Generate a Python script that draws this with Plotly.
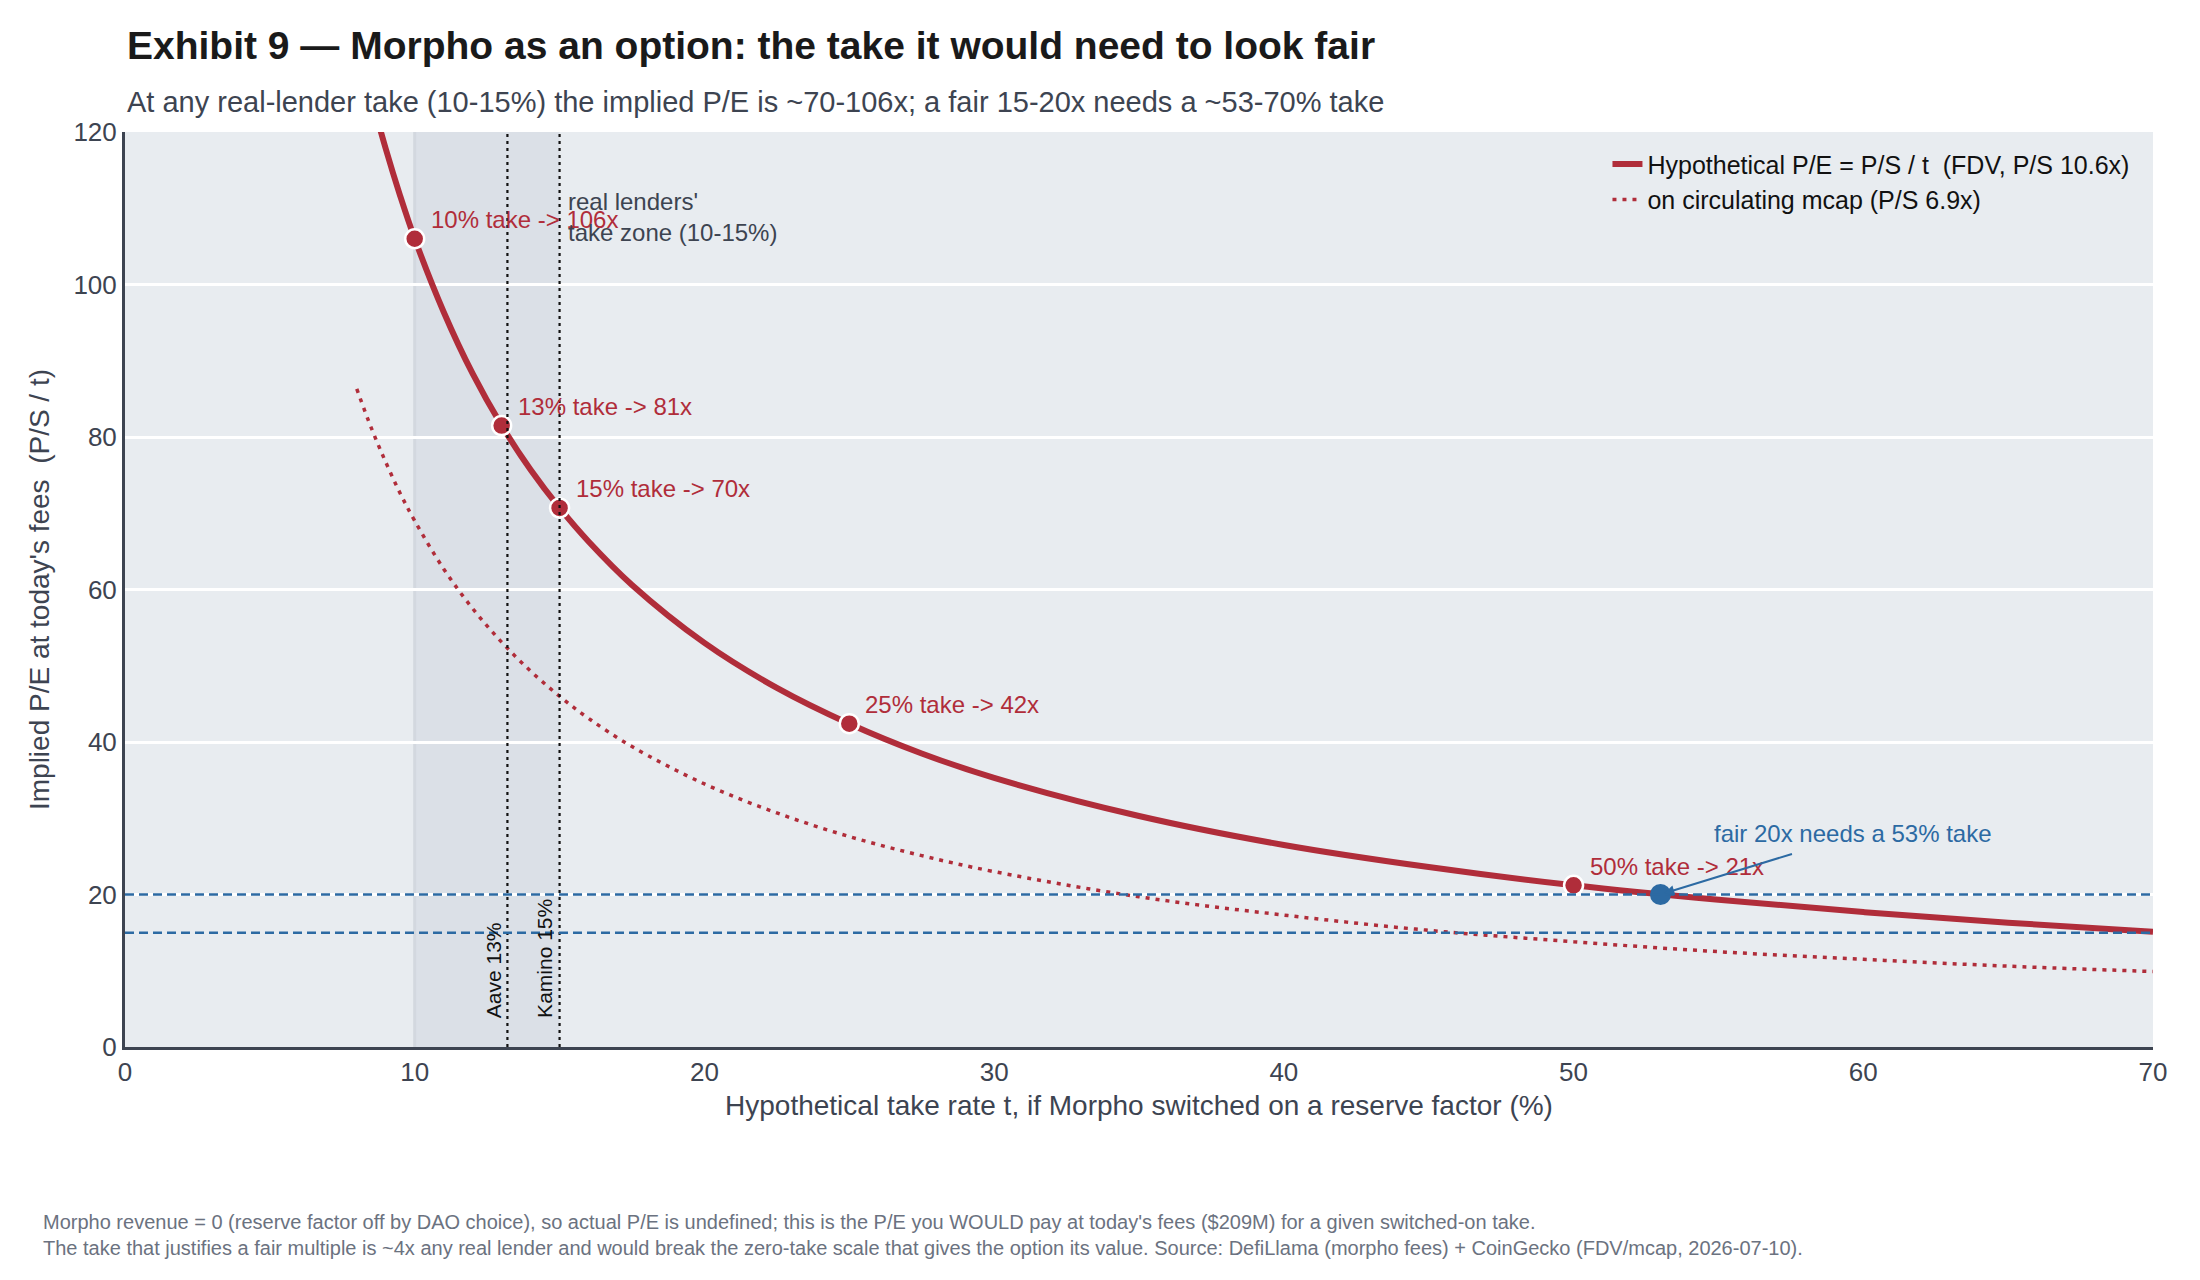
import plotly.graph_objects as go

# ---- data ----
take_rates = [8, 8.5, 9, 9.5, 10, 11, 12, 13, 14, 15, 16, 17.5, 20, 22.5, 25, 27.5, 30,
              35, 40, 45, 50, 55, 60, 65, 70]
pe_fdv = [132.5, 124.7, 117.8, 111.6, 106.0, 96.4, 88.3, 81.5, 75.7, 70.7, 66.3, 60.6, 53.0,
          47.1, 42.4, 38.5, 35.3, 30.3, 26.5, 23.6, 21.2, 19.3, 17.7, 16.3, 15.1]
pe_circ = [86.3, 81.2, 76.7, 72.6, 69.0, 62.7, 57.5, 53.1, 49.3, 46.0, 43.1, 39.4, 34.5,
           30.7, 27.6, 25.1, 23.0, 19.7, 17.3, 15.3, 13.8, 12.5, 11.5, 10.6, 9.9]

marked_takes = [10, 13, 15, 25, 50]
marked_pe = [106.0, 81.5, 70.7, 42.4, 21.2]
marked_labels = ["10% take -> 106x", "13% take -> 81x", "15% take -> 70x",
                 "25% take -> 42x", "50% take -> 21x"]

fair_take = 53
fair_pe = 20
fair_bands = [20, 15]

zone = [10, 15]
lender_lines = [13.2, 15]
lender_labels = ["Aave 13%", "Kamino 15%"]

x_ticks = [0, 10, 20, 30, 40, 50, 60, 70]
y_ticks = [0, 20, 40, 60, 80, 100, 120]

# ---- styles ----
RED = "#b02d3a"
BLUE = "#2c6aa3"
TXT = "#3d4451"
FONT = "Liberation Sans, Arial, sans-serif"

fig = go.Figure()

fig.add_trace(go.Scatter(
    x=take_rates, y=pe_fdv, mode="lines", line=dict(color=RED, width=6, shape="spline"),
    name="Hypothetical P/E = P/S / t  (FDV, P/S 10.6x)"))
fig.add_trace(go.Scatter(
    x=take_rates, y=pe_circ, mode="lines",
    line=dict(color=RED, width=3.5, dash="4px,6px", shape="spline"),
    name="on circulating mcap (P/S 6.9x)"))
fig.add_trace(go.Scatter(
    x=marked_takes, y=marked_pe, mode="markers", showlegend=False,
    marker=dict(color=RED, size=19, line=dict(color="white", width=2.5))))
fig.add_trace(go.Scatter(
    x=[fair_take], y=[fair_pe], mode="markers", showlegend=False,
    marker=dict(color=BLUE, size=21, line=dict(color=BLUE, width=0))))

shapes = [dict(type="rect", xref="x", yref="paper", x0=zone[0], x1=zone[1], y0=0, y1=1,
               fillcolor="#dbe0e7", line=dict(width=0), layer="below"),
          dict(type="line", xref="x", yref="paper", x0=zone[0], x1=zone[0], y0=0, y1=1,
               line=dict(color="#d3d8df", width=3), layer="below")]
for xv in lender_lines:
    shapes.append(dict(type="line", xref="x", yref="paper", x0=xv, x1=xv, y0=0, y1=1,
                       line=dict(color="#111111", width=2.2, dash="3px,4px")))
for yv in fair_bands:
    shapes.append(dict(type="line", xref="paper", yref="y", x0=0, x1=1, y0=yv, y1=yv,
                       line=dict(color=BLUE, width=2.5, dash="9px,5px")))
fig.update_layout(shapes=shapes)

ann = []
for xt, yt, lab in zip(marked_takes, marked_pe, marked_labels):
    ann.append(dict(x=xt, y=yt, xref="x", yref="y", text=lab, showarrow=False,
                    xanchor="left", yanchor="middle", xshift=14, yshift=19,
                    font=dict(color=RED, size=24, family=FONT)))
for xv, lab in zip(lender_lines, lender_labels):
    ann.append(dict(x=xv, y=3.5, xref="x", yref="y", text=lab, showarrow=False,
                    textangle=-90, xanchor="right", yanchor="bottom", xshift=-1,
                    font=dict(color="#111111", size=21, family=FONT)))
ann.append(dict(x=zone[1], y=108.9, xref="x", yref="y",
                text="real lenders'<br>take zone (10-15%)", showarrow=False,
                xanchor="left", yanchor="middle", align="left", xshift=6,
                font=dict(color=TXT, size=24, family=FONT)))
ann.append(dict(x=fair_take, y=fair_pe, xref="x", yref="y", text="", showarrow=True,
                ax=133, ay=-41, arrowhead=2, arrowsize=1, arrowwidth=2, arrowcolor=BLUE,
                standoff=4))
ann.append(dict(x=fair_take, y=fair_pe, xref="x", yref="y",
                text="fair 20x needs a 53% take", showarrow=False,
                xanchor="left", yanchor="middle", xshift=52, yshift=61,
                font=dict(color=BLUE, size=24, family=FONT)))
# title / subtitle / footer
ann.append(dict(x=0, y=1.094, xref="paper", yref="paper", xanchor="left", yanchor="middle",
                text="<b>Exhibit 9 — Morpho as an option: the take it would need to look fair</b>",
                showarrow=False, font=dict(color="#1a1a1a", size=39, family=FONT)))
ann.append(dict(x=0, y=1.033, xref="paper", yref="paper", xanchor="left", yanchor="middle",
                text="At any real-lender take (10-15%) the implied P/E is ~70-106x; a fair 15-20x needs a ~53-70% take",
                showarrow=False, font=dict(color=TXT, size=29, family=FONT)))
ann.append(dict(x=-0.0415, y=-0.205, xref="paper", yref="paper", xanchor="left", yanchor="middle",
                align="left",
                text="Morpho revenue = 0 (reserve factor off by DAO choice), so actual P/E is undefined; this is the P/E you WOULD pay at today's fees ($209M) for a given switched-on take."
                     "<br>The take that justifies a fair multiple is ~4x any real lender and would break the zero-take scale that gives the option its value. Source: DefiLlama (morpho fees) + CoinGecko (FDV/mcap, 2026-07-10).",
                showarrow=False, font=dict(color="#6b7280", size=20, family=FONT)))
fig.update_layout(annotations=ann)

fig.update_layout(
    width=2200, height=1280,
    margin=dict(l=125, r=47, t=132, b=233),
    paper_bgcolor="white", plot_bgcolor="#e8ecf0",
    font=dict(family=FONT, color=TXT, size=26),
    showlegend=True,
    legend=dict(x=0.731, y=0.99, xanchor="left", yanchor="top", bgcolor="rgba(0,0,0,0)",
                font=dict(size=25, color="#111111", family=FONT), tracegroupgap=0),
    xaxis=dict(range=[0, 70], tickvals=x_ticks, showgrid=False, zeroline=False,
               showline=True, linecolor="#3d4451", linewidth=3, ticks="",
               tickfont=dict(size=26, color=TXT),
               title=dict(text="Hypothetical take rate t, if Morpho switched on a reserve factor (%)",
                          font=dict(size=28, color=TXT), standoff=10)),
    yaxis=dict(range=[0, 120], tickvals=y_ticks, showgrid=True, gridcolor="white", gridwidth=2.5,
               zeroline=False, showline=True, linecolor="#3d4451", linewidth=3, ticks="",
               tickfont=dict(size=26, color=TXT),
               title=dict(text="Implied P/E at today's fees  (P/S / t)",
                          font=dict(size=28, color=TXT), standoff=16)),
)

fig.write_html("out.html")
